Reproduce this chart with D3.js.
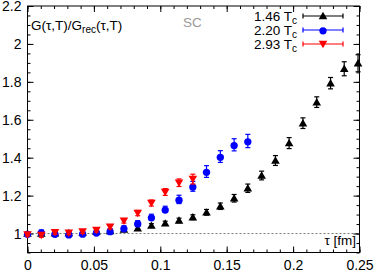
<!DOCTYPE html>
<html>
<head>
<meta charset="utf-8">
<script src="https://cdn.jsdelivr.net/npm/d3@7"></script>
<style>
body{margin:0;background:#fff;}
svg{display:block;font-family:"Liberation Sans",Arial,sans-serif;}
</style>
</head>
<body>
<svg id="c" width="374" height="272"></svg>
<script>
// ---- data ----
const tau = [0, 0.0104, 0.0207, 0.0311, 0.0415, 0.0519, 0.0622, 0.0726, 0.0830, 0.0933,
  0.1037, 0.1141, 0.1245, 0.1348, 0.1452, 0.1556, 0.1659, 0.1763, 0.1867, 0.1970,
  0.2074, 0.2178, 0.2282, 0.2385, 0.2489];
const ratio146 = [1.000, 1.001, 1.002, 1.003, 1.005, 1.009, 1.014, 1.021, 1.028, 1.042,
  1.054, 1.069, 1.086, 1.112, 1.144, 1.186, 1.239, 1.306, 1.385, 1.477,
  1.582, 1.693, 1.793, 1.869, 1.898];
const err146 = [0.005, 0.006, 0.006, 0.007, 0.007, 0.008, 0.008, 0.009, 0.010, 0.010,
  0.011, 0.012, 0.013, 0.015, 0.017, 0.020, 0.022, 0.023, 0.026, 0.029,
  0.028, 0.028, 0.030, 0.037, 0.045];
const ratio220 = [1.000, 1.007, 1.000, 0.997, 1.001, 1.007, 1.014, 1.029, 1.055, 1.087,
  1.128, 1.180, 1.249, 1.327, 1.406, 1.468, 1.488];
const err220 = [0.006, 0.012, 0.010, 0.010, 0.010, 0.010, 0.011, 0.012, 0.013, 0.015,
  0.016, 0.022, 0.026, 0.031, 0.031, 0.032, 0.035];
const ratio293 = [0.995, 0.992, 1.006, 1.004, 1.010, 1.018, 1.035, 1.067, 1.108, 1.161,
  1.219, 1.268, 1.287];
const err293 = [0.008, 0.012, 0.010, 0.010, 0.010, 0.010, 0.011, 0.012, 0.014, 0.016,
  0.018, 0.020, 0.026];
const seriesLabels = ["1.46", "2.20", "2.93"];
const xMajor = [0, 0.05, 0.1, 0.15, 0.2, 0.25];
const xMajorLabels = ["0", "0.05", "0.1", "0.15", "0.2", "0.25"];
const yMajor = [1, 1.2, 1.4, 1.6, 1.8, 2, 2.2];
const yMajorLabels = ["1", "1.2", "1.4", "1.6", "1.8", "2", "2.2"];

// ---- layout ----
const L = 27.5, R = 359.5, T = 6, B = 252.5;
const x = d3.scaleLinear([0, 0.25], [L, R]);
const y = d3.scaleLinear([0.9, 2.2], [B, T]);
const svg = d3.select("#c");

const series = [
  {vals: ratio146, errs: err146, color: "#000000", sym: d3.symbolTriangle, rot: 0, size: 32},
  {vals: ratio220, errs: err220, color: "#0000ff", sym: d3.symbolCircle, rot: 0, size: 42},
  {vals: ratio293, errs: err293, color: "#ff0000", sym: d3.symbolTriangle, rot: 180, size: 32}
];

// reference line y=1
svg.append("line").attr("x1", L).attr("x2", R).attr("y1", y(1)).attr("y2", y(1))
  .attr("stroke", "#555").attr("stroke-width", 0.8).attr("stroke-dasharray", "2,2");

// axes
const xMinor = d3.range(0, 0.2501, 0.01);
const yMinor = d3.range(0.9, 2.2001, 0.05);
function styleAxis(g){ g.select(".domain").remove(); g.selectAll("line").attr("stroke","#000"); }
svg.append("g").attr("transform", `translate(0,${B})`)
  .call(d3.axisBottom(x).tickValues(xMinor).tickSize(-3).tickFormat("")).call(styleAxis);
svg.append("g").attr("transform", `translate(0,${T})`)
  .call(d3.axisTop(x).tickValues(xMinor).tickSize(-3).tickFormat("")).call(styleAxis);
svg.append("g").attr("transform", `translate(${L},0)`)
  .call(d3.axisLeft(y).tickValues(yMinor).tickSize(-3).tickFormat("")).call(styleAxis);
svg.append("g").attr("transform", `translate(${R},0)`)
  .call(d3.axisRight(y).tickValues(yMinor).tickSize(-3).tickFormat("")).call(styleAxis);

const gxb = svg.append("g").attr("transform", `translate(0,${B})`)
  .call(d3.axisBottom(x).tickValues(xMajor).tickSize(-6).tickPadding(8)
    .tickFormat((d,i)=>xMajorLabels[i])).call(styleAxis);
gxb.selectAll("text").attr("font-size", 14).attr("fill", "#000")
  .attr("font-family", "Liberation Sans, Arial, sans-serif");
svg.append("g").attr("transform", `translate(0,${T})`)
  .call(d3.axisTop(x).tickValues(xMajor).tickSize(-6).tickFormat("")).call(styleAxis);
const gyl = svg.append("g").attr("transform", `translate(${L},0)`)
  .call(d3.axisLeft(y).tickValues(yMajor).tickSize(-6).tickPadding(6)
    .tickFormat((d,i)=>yMajorLabels[i])).call(styleAxis);
gyl.selectAll("text").attr("font-size", 14).attr("fill", "#000")
  .attr("font-family", "Liberation Sans, Arial, sans-serif");
svg.append("g").attr("transform", `translate(${R},0)`)
  .call(d3.axisRight(y).tickValues(yMajor).tickSize(-6).tickFormat("")).call(styleAxis);

// frame
svg.append("rect").attr("x", L).attr("y", T).attr("width", R-L).attr("height", B-T)
  .attr("fill", "none").attr("stroke", "#000").attr("stroke-width", 1);

// data
series.forEach(s => {
  const g = svg.append("g");
  const pts = s.vals.map((v,i)=>({t: tau[i], v, e: s.errs[i]}));
  pts.forEach(p => {
    const cx = x(p.t), y1 = y(p.v + p.e), y2 = y(p.v - p.e);
    g.append("line").attr("x1", cx).attr("x2", cx).attr("y1", y1).attr("y2", y2)
      .attr("stroke", s.color).attr("stroke-width", 1.2);
    [y1, y2].forEach(yy => g.append("line").attr("x1", cx-2.5).attr("x2", cx+2.5)
      .attr("y1", yy).attr("y2", yy).attr("stroke", s.color).attr("stroke-width", 1.2));
  });
  g.selectAll("path.pt").data(pts).join("path").attr("class","pt")
    .attr("d", d3.symbol(s.sym, s.size))
    .attr("transform", p => `translate(${x(p.t)},${y(p.v) + (s.rot ? -0.8 : 0.8)}) rotate(${s.rot})`)
    .attr("fill", s.color);
});

// legend
const legY = [16, 30, 44];
series.forEach((s,i) => {
  const t = svg.append("text").attr("x", 297).attr("y", legY[i] + 4.5)
    .attr("text-anchor", "end").attr("font-size", 13.5).attr("fill", "#000");
  t.append("tspan").text(seriesLabels[i] + " T");
  t.append("tspan").attr("font-size", 10).attr("dy", 3).text("c");
  svg.append("line").attr("x1", 303).attr("x2", 343).attr("y1", legY[i]).attr("y2", legY[i])
    .attr("stroke", s.color).attr("stroke-width", 1.2);
  [303, 343].forEach(xx => svg.append("line").attr("x1", xx).attr("x2", xx)
    .attr("y1", legY[i]-2.5).attr("y2", legY[i]+2.5).attr("stroke", s.color).attr("stroke-width", 1.2));
  svg.append("path").attr("d", d3.symbol(s.sym, s.size)())
    .attr("transform", `translate(323,${legY[i] + (s.rot ? -0.8 : 0.8)}) rotate(${s.rot})`)
    .attr("fill", s.color);
});

// labels
const lab = svg.append("text").attr("x", 31).attr("y", 30).attr("font-size", 13.5).attr("fill", "#000");
lab.append("tspan").text("G(τ,T)/G");
lab.append("tspan").attr("font-size", 10).attr("dy", 3).text("rec");
lab.append("tspan").attr("dy", -3).text("(τ,T)");
svg.append("text").attr("x", 183).attr("y", 27).attr("font-size", 13.5).attr("fill", "#999").text("SC");
svg.append("text").attr("x", 356).attr("y", 245).attr("text-anchor", "end")
  .attr("font-size", 13.5).attr("fill", "#000").text("τ [fm]");
</script>
</body>
</html>
